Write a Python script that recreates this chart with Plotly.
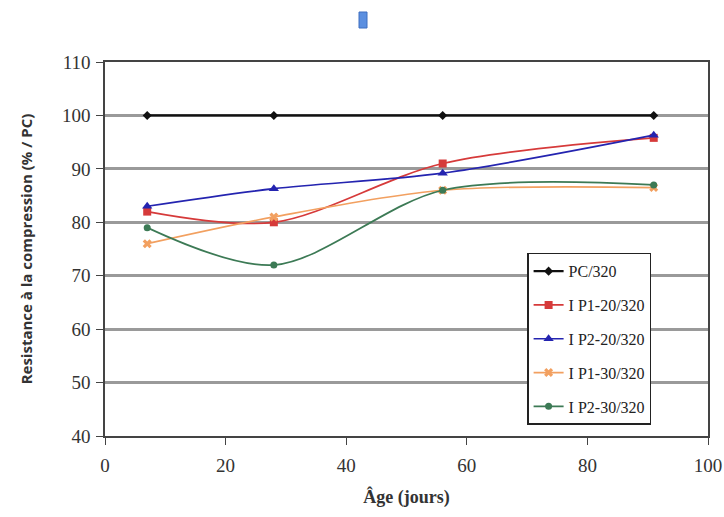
import plotly.graph_objects as go

# Age of specimens (days)
ages = [7, 28, 56, 91]

# Compressive strength relative to the reference PC mix (%)
pc_320 = [100, 100, 100, 100]
ip1_20_320 = [82, 80, 91, 95.8]
ip2_20_320 = [83, 86.3, 89.2, 96.3]
ip1_30_320 = [76, 81, 86, 86.5]
ip2_30_320 = [79, 72, 86, 87]

series = [
    ("PC/320", pc_320, "#111111", "diamond", 7),
    ("I P1-20/320", ip1_20_320, "#d63a3a", "square", 8),
    ("I P2-20/320", ip2_20_320, "#2424b0", "triangle-up", 9),
    ("I P1-30/320", ip1_30_320, "#f2a060", "x", 8),
    ("I P2-30/320", ip2_30_320, "#3c7a55", "circle", 7),
]

fig = go.Figure()
for i, (name, vals, color, symbol, size) in enumerate(series):
    fig.add_trace(go.Scatter(
        x=ages, y=vals, name=name, mode="lines+markers",
        line=dict(color=color, width=2.2 if i == 0 else 1.7, shape="spline", smoothing=0.9),
        marker=dict(color=color, symbol=symbol, size=size),
        legendgroup=f"g{i}",
    ))

serif = "Liberation Serif, serif"
tick_font = dict(family=serif, size=19, color="#333333")

fig.update_layout(
    width=724, height=517,
    margin=dict(l=105, r=16, t=62, b=81),
    paper_bgcolor="white", plot_bgcolor="white",
    showlegend=True,
    legend=dict(
        x=0.70, y=0.49, xanchor="left", yanchor="top",
        bgcolor="white", bordercolor="#222222", borderwidth=1.5,
        font=dict(family=serif, size=16, color="#222222"),
        traceorder="grouped", tracegroupgap=10,
    ),
    xaxis=dict(
        range=[0, 100], dtick=20, showgrid=False, zeroline=False,
        showline=True, linecolor="#444444", linewidth=1.5,
        ticks="outside", ticklen=7, tickcolor="#444444",
        tickfont=tick_font, ticklabelstandoff=4, automargin=False,
        title=dict(text="<b>Âge (jours)</b>", font=dict(family=serif, size=18, color="#333333"), standoff=16),
        mirror=True,
    ),
    yaxis=dict(
        range=[40, 110], dtick=10, showgrid=True, gridcolor="#9a9a9a", gridwidth=2.5,
        zeroline=False, showline=True, linecolor="#444444", linewidth=1.5,
        ticks="outside", ticklen=7, tickcolor="#444444",
        tickfont=tick_font, ticklabelstandoff=2, automargin=False,
        title=dict(text="<b>Resistance à la compression (% / PC)</b>",
                   font=dict(family="Open Sans, DejaVu Sans, sans-serif", size=15, color="#333333"),
                   standoff=26),
        mirror=True,
    ),
)

# small blue marker above the plot
fig.add_shape(type="rect", xref="paper", yref="paper",
              x0=(359 - 105) / 603, x1=(367 - 105) / 603,
              y0=(436 - 12) / 374, y1=(436 - 28) / 374,
              fillcolor="#5b8fe0", line=dict(color="#3f6fc0", width=1))

fig.write_html("out.html")
